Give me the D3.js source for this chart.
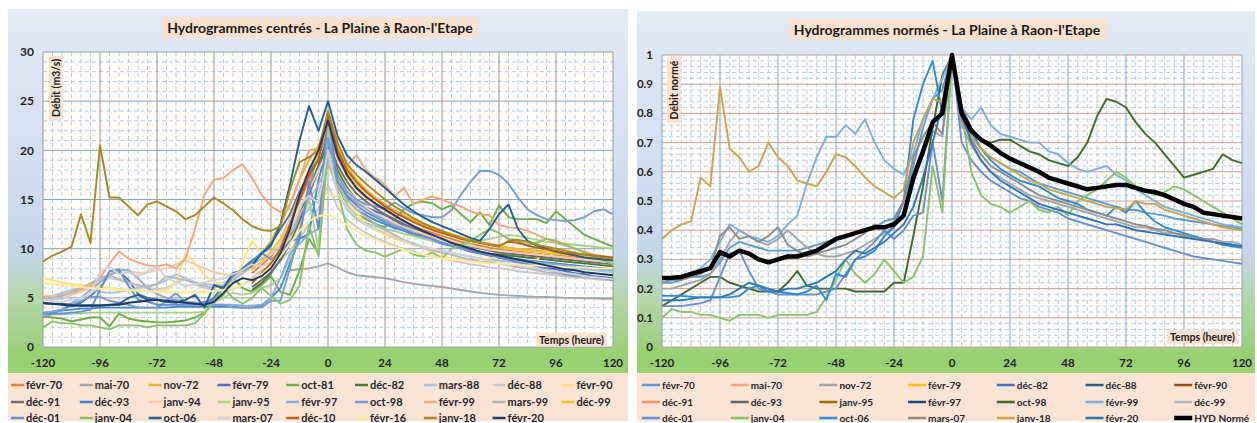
<!DOCTYPE html>
<html><head><meta charset="utf-8">
<script src="https://cdn.jsdelivr.net/npm/d3@7"></script>
<style>
body{margin:0;background:#fff}
svg{display:block}
text{font-family:Lato,"Open Sans","DejaVu Sans",sans-serif}
</style>
</head><body>
<svg id="c" width="1257" height="423"></svg>
<script>
// ---------- shared categories ----------
const hours = [-120,-116,-112,-108,-104,-100,-96,-92,-88,-84,-80,-76,-72,-68,-64,-60,-56,-52,-48,-44,-40,-36,-32,-28,-24,-20,-16,-12,-8,-4,0,4,8,12,16,20,24,28,32,36,40,44,48,52,56,60,64,68,72,76,80,84,88,92,96,100,104,108,112,116,120];
const xTickLabels = [-120,-96,-72,-48,-24,0,24,48,72,96,120];
const leftYTicks = [0,5,10,15,20,25,30];
const rightYTicks = [0,0.1,0.2,0.3,0.4,0.5,0.6,0.7,0.8,0.9,1];
const n = null;

// ---------- left chart: débits (m3/s) ----------
const lFevr70 = [n,n,n,n,n,n,n,n,n,n, n,n,n,n,n,n,n,n,n,n, n,n,7.5,8.3,9.2,10.5,12.5,14.8,17,19.5, 22, 19.3,17.4,16.1,15.2,14.5,13.9,13.3,12.8,12.3,11.9, 11.6,11.3,11,10.7,10.5,10.3,10.1,9.9,9.8,9.7, 9.6,9.5,9.4,9.3,9.2,9.1,9.0,8.9,8.8,8.7];
const lMai70 = [n,n,n,n,n,n,n,n,n,n, n,n,n,n,n,n,n,n,n,n, n,n,n,n,n,n,7.8,7.9,8.0,8.2, 8.5, 8.1,7.6,7.3,7.2,7.1,7.0,6.8,6.6,6.45,6.3, 6.2,6.1,5.95,5.8,5.65,5.5,5.4,5.3,5.25,5.2, 5.15,5.1,5.1,5.05,5.0,5.0,4.95,4.95,4.9,4.9];
const lNov72 = [n,n,n,n,n,n,n,n,n,n, n,n,n,n,n,n,n,n,n,n, n,n,8.5,9.5,10.8,12.5,14.5,17,19,20.5, 23, 20.3,18.3,17,16,15.2,14.5,13.9,13.4,12.9,12.5, 12.1,11.8,11.5,11.2,10.9,10.7,10.5,10.3,10.1,10, 9.9,9.8,9.7,9.6,9.5,9.4,9.3,9.2,9.1,9.0];
const lFevr79 = [3.4,3.6,3.8,4.2,4.5,5.2,6,7.4,7.7,6.8, 5.4,5,4.8,4.6,4.6,4.5,4.5,4.4,5,6.3, 7.2,8,8.8,9.5,10.5,12,13.5,15.8,17.5,19.5, 22, 17,15.2,14.6,14.2,13.8,13.4,12.9,12.3,11.8,11.3, 10.9,10.6,10.3,10,9.7,9.5,9.3,9.1,8.9,8.7, 8.5,8.3,8.1,7.9,7.7,7.5,7.4,7.2,7.1,7.0];
const lOct81 = [3.1,3,2.9,2.6,2.8,3,3,2.1,3.4,2.9, 2.7,2.6,2.5,2.5,2.6,2.7,3,3.5,4.6,5.3, 7.1,6,5.6,6.3,7.2,5.6,5.3,7.8,11,9.5, 21, 16.5,14.5,13.5,13,12.5,12.2,13,14,14.6,14.8, 14.6,14,14.4,13.5,12.7,13.7,12.4,14.4,13.2,13, 13,13,12.6,13.8,13,12.2,11.4,11,10.6,10.2];
const lDec82 = [n,n,n,n,n,n,n,n,n,n, n,n,n,n,n,n,n,n,n,n, n,n,5.8,6.5,7.5,9,11,13.5,16,18.5, 21.5, 18,16.2,15,14.2,13.6,13,12.5,12,11.6,11.2, 10.9,10.6,10.4,10.1,9.9,9.7,9.5,9.4,9.3,9.2, 9.1,9,8.9,8.8,8.7,8.6,8.5,8.4,8.3,8.2];
const lMars88 = [5,5.2,5.5,5.8,6,5.8,5.6,5.5,5.6,5.8, 6,6.2,6.4,6.8,7.4,7,6.6,6.4,6.3,6.5, 7,7.6,8.3,9,9.4,10.2,11.5,13,14,15.5, 19, 15.8,14,13,12.4,11.9,11.5,11.1,10.8,10.5,10.2, 10,9.8,9.6,9.4,9.2,9,8.9,8.8,8.7,8.6, 8.5,8.4,8.3,8.2,8.1,8,7.9,7.8,7.7,7.6];
const lDec88 = [4.8,4.8,4.9,5.3,5.8,6.3,6.9,7,6.8,6.5, 6.2,6,5.9,6,6.5,7,6.4,6,5.8,5.7, 5.9,6.3,7,7.8,8.2,8.8,9.8,11,12.5,14, 16.5, 14.2,13,12.2,11.6,11.1,10.7,10.3,10,9.7,9.4, 9.2,9,8.8,8.6,8.4,8.3,8.1,8,7.9,7.7, 7.6,7.5,7.4,7.3,7.2,7.1,7,6.9,6.8,6.8];
const lFevr90 = [7,6.8,6.6,6.4,6.3,6.2,6.1,6,5.9,5.8, 5.8,5.7,5.6,5.8,6.5,9.5,8.5,7.3,6.6,6.4, 6.5,8.5,10.8,9.5,8.8,9.5,11,12.5,15,15.5, 15.5, 15.3,14.5,13.6,12.6,11.9,11.4,11,10.7,10.4,10.1, 9.6,9.2,9,8.8,8.8,8.9,9,9.2,9,8.8, 8.7,8.9,9.8,9,8.9,8.8,8.8,8.8,8.8,8.7];
const lDec91 = [n,n,n,n,n,n,n,n,n,n, n,n,n,n,n,n,n,n,n,n, n,n,6.1,6.8,7.6,8.8,10.5,12.8,15.5,18, 21, 18.5,16.8,15.6,14.8,14.1,13.5,13,12.5,12.1,11.7, 11.3,11,10.7,10.4,10.2,10,9.8,9.6,9.5,9.4, 9.3,9.2,9.1,9,8.9,8.8,8.7,8.6,8.5,8.4];
const lDec93 = [3.5,3.6,3.7,3.8,3.9,3.9,4,4,4,4, 4,4,4,4,4.1,4.1,4.1,4.1,4.1,4.1, 4.1,4,4,4.2,5,6,8.5,11,11.5,17, 20.5, 17,15,14,13.4,12.9,12.5,12.1,11.8,11.4,11.1, 10.8,10.5,10.3,10,9.8,9.6,9.4,9.2,9,8.9, 8.8,8.7,8.6,8.5,8.4,8.3,8.2,8.1,8,7.9];
const lJanv94 = [5.3,5.2,5.2,5.3,5.6,6,6.6,7.4,8,7.8, 7.5,7.6,7.8,8,8.4,8.8,8.4,8,7.6,7.4, 7.3,7.5,8,8.6,9.4,10.5,12,14,16,18, 20, 17.5,16,15,14.2,13.6,13.1,12.6,12.2,11.8,11.5, 11.2,10.9,10.7,10.5,10.3,10.1,9.9,9.8,9.7,9.6, 9.5,9.4,9.3,9.2,9.1,9,8.9,8.8,8.7,8.6];
const lJanv95 = [3.2,3.3,3.3,3.4,3.4,3.5,3.5,3.5,3.5,3.5, 3.5,3.5,3.5,3.5,3.5,3.5,3.5,3.6,4.5,5, 5.5,5.3,5.5,6,6.3,7,9,12,15,10, 22, 17,14.5,13,12.6,12.3,12,11.8,11.5,11.3,11, 10.8,10.6,10.5,10.4,10.5,10.8,11,11.2,11.4,11.3, 11.1,10.9,10.7,10.6,10.5,10.4,10.3,10.2,10.1,10];
const lFevr97 = [3.5,3.6,3.8,4.5,5,5.8,6.6,7.3,7.8,7.8, 7,6,5.4,5,4.8,4.6,4.5,4.4,4.3,4.3, 4.3,4.2,4.2,4.3,5,7,9.5,10.5,11.5,12, 21.2, 17,15.5,14.7,14,13.4,12.9,12.4,12,11.6,11.2, 10.9,10.6,10.3,10,9.8,9.6,9.4,9.2,9,8.8, 8.7,8.6,8.5,8.4,8.3,8.2,8.1,8,7.9,7.8];
const lOct98 = [3,3.4,3.8,4.3,4.7,5.1,5.1,4.7,4.5,4.3, 4,4,4,4.7,5.5,4.5,4.3,4.3,4.3,4.3, 4,4,4,4,4.7,4.7,8,11.7,16,20, 21.3, 17.5,15.8,15,14.5,14.3,14.1,14.7,14.1,13.6,13.4, 13.2,13.2,13.9,15.5,16.8,17.9,17.9,17.5,16.6,15.2, 14,13.4,13,12.9,12.8,12.9,13.2,13.8,14,13.5];
const lFevr99 = [5.1,5,5.3,5.5,5.8,6.2,7,8.5,9.7,9, 8.6,8.3,8.2,8.4,8,9,12,15.5,17,17.2, 18,18.6,17.2,15.5,14.3,13.7,14.5,17,20,20.2, 23.7, 19.5,18.5,19.5,18,17.2,16.5,15.3,16.2,14.5,15, 15.3,15,14.6,14.3,13.8,13.5,13.4,12.4,12.2,12.1, 11.8,11.4,11,10.6,10.3,10,9.7,9.4,9.2,9.0];
const lMars99 = [5,5,5.2,5.6,6,6.5,7,7.3,6.9,6.6, 6.3,6.1,6.4,7.2,7,6.8,6.5,6.2,6,6.3, 6.8,7.5,8.2,9.5,10,9.8,11.5,13.5,15,16.5, 18.5, 16.5,15,14,13.2,12.5,11.9,11.4,10.9,10.5,10.1, 9.8,9.6,9.4,9.1,8.9,8.7,8.6,8.5,8.3,8.1, 8,7.8,7.6,7.5,7.3,7.2,7.1,7,6.9,6.8];
const lDec99 = [n,n,n,n,n,n,n,n,n,n, n,n,n,n,n,n,n,n,n,n, n,n,7.9,8.7,9.7,11,13,15.5,18,19.5, 22.5, 19.8,17.8,16.6,15.7,15,14.3,13.7,13.2,12.7,12.3, 11.9,11.6,11.3,11,10.8,10.6,10.4,10.2,10,9.9, 9.8,9.7,9.6,9.5,9.4,9.3,9.2,9.1,9,8.9];
const lDec01 = [3.4,3.4,3.4,3.5,3.6,3.8,5.8,7.7,7.9,6.2, 4.8,4.6,4.3,4.3,4.3,4.3,4.3,4.6,4.8,6, 7.2,7.9,8.6,9.6,8.9,9.6,10.8,11,16.8,12, 24, 16.8,15.4,14.4,13.7,13.2,12.7,12.2,12,11.5,11.3, 11,10.6,10.3,10.1,9.8,9.6,9.4,9.1,8.9,8.6, 8.4,8.2,7.9,7.7,7.4,7.3,7.2,7.1,7,6.8];
const lJanv04 = [2,2.6,2.4,2.4,2.2,2.2,2,1.8,2.2,2.2, 2.2,2,2.2,2.2,2.2,2.2,2.4,3.4,4.6,6, 5,4.4,5,6,5.2,4.4,4.8,6.2,12.4,9.2, 20, 16,12,10.4,9.8,9.6,9.2,9.6,10,9.4,9.2, 9.6,9,10,10.4,10.8,11.4,12,11.6,11,10.8, 10.4,10.6,11,10.8,10.4,10,9.6,9.2,8.8,8.4];
const lOct06 = [4.4,4.4,4.4,4.3,4.25,4.25,4.25,4.25,4.4,5, 5.3,4.8,4.8,4.6,4.5,4.8,5.3,4,6.3,6, 7.5,7.8,8.3,9.5,10.3,12.5,16.5,21,24.5,22, 25, 21.5,19.5,18.5,17.8,17,16.2,15.3,14.5,13.8,13.2, 12.7,12.3,11.9,11.5,11.1,10.8,12,13.5,14.5,12, 10.8,10.3,10,9.7,9.5,9.3,9.1,9,8.9,8.8];
const lMars07 = [4.4,4.6,4.6,4.8,5,5.4,7.6,8.2,7.4,7.6, 7.2,7.6,8.2,7,6.6,6.2,6.4,6.6,6.8,7, 7.4,7.8,8.4,8.2,8.6,10,13,14.4,15.4,14.6, 20, 15.6,14.2,13.2,12.4,12,11.6,11.2,10.8,10.4,10.2, 10,9.8,9.6,9.4,9.2,9,8.8,8.6,8.4,8.3, 8.1,8,7.8,7.7,7.5,7.4,7.2,7.1,7,6.9];
const lDec10 = [n,n,n,n,n,n,n,n,n,n, n,n,n,n,n,n,n,n,n,n, n,n,6.5,7.5,8.5,10,12.5,15,17.5,19, 23.8, 20,18,16.8,15.8,15,14.3,13.7,13.2,12.7,12.3, 11.9,11.6,11.3,11,10.8,10.6,10.4,10.3,10.7,10.6, 10.3,10.1,9.9,9.8,9.6,9.5,9.4,9.3,9.2,9.1];
const lFevr16 = [6.5,6.4,6.3,6.2,6.1,6,5.9,5.9,5.8,5.8, 5.7,5.7,5.6,5.6,5.6,5.6,5.6,5.6,5.7,5.8, 6,6.3,6.8,7.4,8.2,9.2,10.5,11.8,12.8,13.3, 13.5, 13,12.4,11.8,11.3,10.9,10.5,10.2,9.9,9.6,9.4, 9.2,9,8.9,8.8,8.7,8.6,8.5,8.5,8.4,8.4, 8.3,8.3,8.2,8.2,8.1,8.1,8.1,8,8,8];
const lJanv18 = [8.7,9.3,9.7,10.2,13.5,10.6,20.5,15.2,15.2,14.3, 13.4,14.5,14.8,14.3,13.8,13,13.4,14.3,15.2,14.6, 13.9,13,12.3,11.9,11.8,12.3,16,18.8,19.3,20, 24, 20.8,18.6,17.5,16.6,15.8,15,14.3,13.7,13.1,12.6, 12.2,11.8,11.4,11.1,10.8,10.6,10.4,10.2,10.8,10.9, 10.7,10.4,10.2,10,9.8,9.6,9.4,9.3,9.1,9.0];
const lFevr20 = [4.5,4.4,4.3,4.2,4.2,4.2,4.2,4.3,4.3,4.5, 4.6,4.7,4.8,4.7,4.6,4.5,4.4,4.3,4.6,5.5, 6.5,7,6.8,7.2,8,9.5,12,15.5,18,20, 23, 19.5,17.5,16.2,15.3,14.6,14,13.4,12.8,12.3,11.8, 11.4,11,10.6,10.3,10,9.7,9.5,9.3,9.1,8.9, 8.7,8.5,8.3,8.1,7.9,7.8,7.6,7.5,7.4,7.3];

const leftNames = ["févr-70","mai-70","nov-72","févr-79","oct-81","déc-82","mars-88","déc-88","févr-90",
  "déc-91","déc-93","janv-94","janv-95","févr-97","oct-98","févr-99","mars-99","déc-99",
  "déc-01","janv-04","oct-06","mars-07","déc-10","févr-16","janv-18","févr-20"];
const leftValues = [lFevr70,lMai70,lNov72,lFevr79,lOct81,lDec82,lMars88,lDec88,lFevr90,
  lDec91,lDec93,lJanv94,lJanv95,lFevr97,lOct98,lFevr99,lMars99,lDec99,
  lDec01,lJanv04,lOct06,lMars07,lDec10,lFevr16,lJanv18,lFevr20];
const leftColors = ["#ED7D31","#A5A5A5","#E3B428","#4472C4","#70AD47","#4E7A35","#9DC3E6","#C9C9C9","#FFE27A",
  "#6F6F6F","#3C8DD0","#F8CBAD","#A9D18E","#8FAADC","#7A9CCB","#F4A77A","#B7B7B7","#F2C12E",
  "#698ED0","#8CC168","#255E91","#D3D3D3","#C55A11","#FFEB9C","#A48A1F","#203864"];

// ---------- right chart: débits normés ----------
const rFevr70 = [.22,.22,.23,.24,.24,.25,.29,.34,.36,.35, .34,.33,.33,.33,.33,.34,.35,.36,.37,.38, .39,.4,.41,.43,.44,.5,.62,.75,.85,.88, 1, .79,.72,.68,.65,.63,.61,.6,.58,.56,.55, .54,.53,.52,.51,.5,.49,.48,.47,.47,.46, .455,.45,.44,.435,.43,.425,.42,.415,.41,.405];
const rMai70 = [];
const rNov72 = [.2,.2,.21,.22,.23,.25,.3,.36,.4,.38, .36,.35,.37,.4,.37,.34,.32,.31,.31,.32, .33,.35,.37,.39,.41,.45,.56,.66,.74,.72, 1, .76,.69,.64,.6,.58,.56,.54,.52,.51,.5, .49,.48,.47,.46,.45,.44,.43,.42,.41,.41, .4,.39,.39,.38,.38,.37,.37,.36,.36,.35];
const rFevr79 = [];
const rDec82 = [];
const rDec88 = [];
const rFevr90 = [];
const rDec91 = [];
const rDec93 = [];
const rJanv95 = [];
const rFevr97 = [];
const rOct98 = [.14,.16,.18,.2,.22,.24,.24,.22,.21,.2, .19,.19,.19,.22,.26,.21,.2,.2,.2,.2, .19,.19,.19,.19,.22,.22,.38,.55,.75,.93, 1, .82,.75,.71,.70,.71,.71,.69,.67,.66,.64, .63,.62,.65,.70,.79,.85,.84,.82,.77,.73, .70,.66,.62,.58,.59,.6,.61,.66,.64,.63];
const rFevr99 = [.22,.23,.24,.25,.27,.3,.36,.42,.4,.38, .37,.36,.38,.42,.45,.56,.65,.72,.72,.76, .73,.78,.7,.64,.61,.59,.66,.78,.85,.92, 1, .82,.78,.82,.76,.73,.72,.71,.70,.70,.67, .66,.63,.61,.60,.61,.62,.59,.57,.54,.52, .50,.48,.47,.46,.45,.44,.43,.42,.415,.41];
const rDec99 = [];
const rDec01 = [.14,.14,.14,.145,.15,.16,.24,.32,.33,.26, .2,.19,.18,.18,.18,.18,.18,.19,.2,.25, .3,.33,.36,.4,.37,.4,.45,.46,.7,.5, 1, .7,.64,.6,.57,.55,.53,.51,.5,.48,.47, .46,.44,.43,.42,.41,.4,.39,.38,.37,.36, .35,.34,.33,.32,.31,.305,.3,.295,.29,.285];
const rJanv04 = [.1,.13,.12,.12,.11,.11,.1,.09,.11,.11, .11,.1,.11,.11,.11,.11,.12,.17,.23,.3, .25,.22,.25,.3,.26,.22,.24,.31,.62,.46, 1, .8,.6,.52,.49,.48,.46,.48,.5,.47,.46, .48,.45,.5,.52,.54,.57,.6,.58,.55,.54, .52,.53,.55,.54,.52,.5,.48,.46,.44,.42];
const rOct06 = [.175,.175,.175,.172,.17,.17,.17,.17,.175,.2, .21,.19,.19,.185,.18,.19,.21,.16,.25,.24, .3,.31,.33,.38,.41,.5,.78,.9,.98,.8, 1, .8,.74,.68,.64,.61,.59,.57,.56,.55,.53, .51,.5,.49,.47,.46,.45,.48,.46,.5,.46, .43,.41,.4,.39,.38,.37,.36,.35,.345,.34];
const rMars07 = [.22,.23,.23,.24,.25,.27,.38,.41,.37,.38, .36,.38,.41,.35,.33,.31,.32,.33,.34,.35, .37,.39,.42,.41,.43,.5,.65,.72,.77,.73, 1, .78,.71,.66,.62,.6,.58,.56,.54,.52,.51, .5,.49,.48,.47,.46,.45,.44,.43,.42,.415, .405,.4,.39,.385,.375,.37,.36,.355,.35,.345];
const rJanv18 = [.37,.40,.42,.43,.58,.55,.89,.68,.65,.60, .62,.70,.65,.62,.57,.56,.55,.60,.66,.65, .62,.58,.55,.53,.51,.54,.70,.78,.85,.84, 1, .80,.72,.68,.65,.63,.61,.59,.57,.56,.54, .53,.52,.51,.50,.49,.48,.475,.47,.50,.49, .49,.47,.46,.45,.44,.43,.42,.41,.405,.40];
const rFevr20 = [.16,.16,.16,.165,.17,.17,.17,.18,.2,.22, .21,.2,.19,.2,.2,.21,.22,.24,.26,.3, .33,.32,.34,.36,.39,.42,.48,.58,.7,.83, 1, .8,.7,.64,.6,.57,.55,.53,.51,.49,.48, .47,.46,.45,.44,.43,.42,.42,.41,.40,.395, .39,.385,.38,.375,.37,.365,.36,.355,.35,.345];
const rHydNorme = [.236,.237,.24,.25,.26,.27,.325,.31,.33,.32, .30,.29,.30,.31,.31,.32,.33,.35,.37,.38, .39,.40,.41,.41,.42,.45,.58,.67,.77,.80, 1, .80,.74,.71,.69,.665,.645,.63,.615,.60,.58, .57,.56,.55,.54,.545,.55,.555,.555,.545,.535, .53,.52,.505,.49,.48,.46,.455,.45,.445,.44];

const rightNames = ["févr-70","mai-70","nov-72","févr-79","déc-82","déc-88","févr-90",
  "déc-91","déc-93","janv-95","févr-97","oct-98","févr-99","déc-99",
  "déc-01","janv-04","oct-06","mars-07","janv-18","févr-20","HYD Normé"];
const rightValues = [rFevr70,rMai70,rNov72,rFevr79,rDec82,rDec88,rFevr90,
  rDec91,rDec93,rJanv95,rFevr97,rOct98,rFevr99,rDec99,
  rDec01,rJanv04,rOct06,rMars07,rJanv18,rFevr20,rHydNorme];
const rightColors = ["#5B9BD5","#F4A77A","#A5A5A5","#FFC000","#4472C4","#255E91","#9E480E",
  "#F1975A","#636363","#997300","#264478","#43682B","#7CAFDD","#B7B7B7",
  "#698ED0","#8CC168","#2E8BD5","#8C8C8C","#C9A54A","#2E75B6","#000000"];

// ---------- drawing ----------
const svg = d3.select("#c");
const defs = svg.append("defs");
const g1 = defs.append("linearGradient").attr("id","bg").attr("x1",0).attr("y1",0).attr("x2",0).attr("y2",1);
[[0,"#e3ebf5"],[0.5,"#cfddef"],[0.72,"#c3d7e9"],[0.86,"#b3d6a6"],[1,"#9ccf7c"]].forEach(s=>g1.append("stop").attr("offset",s[0]).attr("stop-color",s[1]));

function panel(cfg){
  const g = svg.append("g");
  g.append("rect").attr("x",cfg.px).attr("y",cfg.py).attr("width",cfg.pw).attr("height",349-cfg.py).attr("fill","url(#bg)");
  g.append("rect").attr("x",cfg.px).attr("y",349).attr("width",cfg.pw).attr("height",24).attr("fill","#98d072");
  g.append("rect").attr("x",cfg.px).attr("y",373).attr("width",cfg.pw).attr("height",421-373).attr("fill","#fbe4d6");

  const x = d3.scaleLinear().domain([-120,120]).range([cfg.x0,cfg.x1]);
  const y = d3.scaleLinear().domain([0,cfg.ymax]).range([347,cfg.ytop]);

  g.append("rect").attr("x",cfg.x0).attr("y",cfg.ytop).attr("width",cfg.x1-cfg.x0).attr("height",347-cfg.ytop).attr("fill","#fffbf8");

  const mv = d3.range(-120,121,4).filter(h=>h%24!==0);
  g.append("g").selectAll("line").data(mv).join("line")
    .attr("x1",d=>x(d)).attr("x2",d=>x(d)).attr("y1",cfg.ytop).attr("y2",347)
    .attr("stroke","#9cc8ea").attr("stroke-width",0.8).attr("stroke-dasharray","4,3");
  const mh = d3.range(0,cfg.ymax+1e-9,cfg.minor).filter(v=>Math.abs(v/cfg.major-Math.round(v/cfg.major))>1e-6);
  g.append("g").selectAll("line").data(mh).join("line")
    .attr("x1",cfg.x0).attr("x2",cfg.x1).attr("y1",d=>y(d)).attr("y2",d=>y(d))
    .attr("stroke","#9cc8ea").attr("stroke-width",0.8).attr("stroke-dasharray","4,3");
  g.append("g").selectAll("line").data(cfg.yticks).join("line")
    .attr("x1",cfg.x0).attr("x2",cfg.x1).attr("y1",d=>y(d)).attr("y2",d=>y(d))
    .attr("stroke",cfg.hMajor).attr("stroke-width",1);
  g.append("g").selectAll("line").data(xTickLabels).join("line")
    .attr("x1",d=>x(d)).attr("x2",d=>x(d)).attr("y1",cfg.ytop).attr("y2",347)
    .attr("stroke",cfg.vMajor).attr("stroke-width",1);

  const line = d3.line().defined(d=>d[1]!=null).x(d=>x(d[0])).y(d=>y(d[1]));
  cfg.values.forEach((vals,i)=>{
    if(!vals.length) return;
    const pts = vals.map((v,j)=>[hours[j],v]);
    g.append("path").attr("d",line(pts)).attr("fill","none")
      .attr("stroke",cfg.colors[i]).attr("stroke-width",cfg.names[i]==="HYD Normé"?4.5:1.9)
      .attr("stroke-linejoin","round");
  });

  g.append("g").selectAll("text").data(cfg.yticks).join("text")
    .attr("x",cfg.x0-9).attr("y",d=>y(d)).attr("dy","0.35em").attr("text-anchor","end")
    .attr("font-size",cfg.yfs).attr("font-weight","bold").attr("fill","#1f1f1f")
    .text(d=>cfg.yfmt(d));
  g.append("g").selectAll("text").data(xTickLabels).join("text")
    .attr("x",d=>x(d)).attr("y",367).attr("text-anchor","middle")
    .attr("font-size",11.5).attr("font-weight","bold").attr("fill","#1f1f1f")
    .text(d=>d);

  const tt = g.append("text").attr("x",cfg.tx).attr("y",cfg.ty).attr("text-anchor","middle")
    .attr("font-size",14).attr("font-weight","bold").attr("fill","#1a1a1a").text(cfg.title);
  const tb = tt.node().getBBox();
  g.insert("rect",()=>tt.node()).attr("x",tb.x-5).attr("y",tb.y-2).attr("width",tb.width+10).attr("height",tb.height+4).attr("fill","#fbe1cf");

  const yt = g.append("text").attr("transform",`translate(${cfg.ytx},${cfg.yty}) rotate(-90)`)
    .attr("text-anchor","middle").attr("dy","0.35em").attr("font-size",10.5).attr("font-weight","bold").attr("fill","#1a1a1a").text(cfg.ytitle);
  const yb = yt.node().getBBox();
  g.insert("rect",()=>yt.node()).attr("x",cfg.ytx-yb.height/2-1).attr("y",cfg.yty-yb.width/2-3).attr("width",yb.height+2).attr("height",yb.width+6).attr("fill","#fbe1cf");

  const xt = g.append("text").attr("x",cfg.xtx).attr("y",cfg.xty).attr("dy","0.35em").attr("text-anchor","end")
    .attr("font-size",10.5).attr("font-weight","bold").attr("fill","#1a1a1a").text("Temps (heure)");
  const xb = xt.node().getBBox();
  g.insert("rect",()=>xt.node()).attr("x",xb.x-3).attr("y",xb.y-1).attr("width",xb.width+6).attr("height",xb.height+2).attr("fill","#fbe1cf");

  const rows=[385,402,418];
  cfg.names.forEach((nm,i)=>{
    const r = Math.floor(i/cfg.perRow), c = i%cfg.perRow;
    const lx = cfg.lx0 + c*cfg.lstep, ly = rows[r];
    g.append("line").attr("x1",lx).attr("x2",lx+cfg.llen).attr("y1",ly).attr("y2",ly)
      .attr("stroke",cfg.colors[i]).attr("stroke-width",nm==="HYD Normé"?4.5:2.5);
    g.append("text").attr("x",lx+cfg.llen+2).attr("y",ly).attr("dy","0.35em")
      .attr("font-size",cfg.lfs).attr("font-weight","bold").attr("fill","#262626").text(nm);
  });
}

panel({px:8,py:9,pw:620,x0:43,x1:613,ytop:52,ymax:30,major:5,minor:1,yticks:leftYTicks,
  hMajor:"#8aa6b8",vMajor:"#9a9a9a",yfs:12,yfmt:d=>d,
  values:leftValues,colors:leftColors,names:leftNames,
  title:"Hydrogrammes centrés - La Plaine à Raon-l'Etape",tx:320,ty:33,
  ytitle:"Débit (m3/s)",ytx:56,yty:88,xtx:604,xty:340,
  perRow:9,lx0:11,lstep:68.8,llen:13,lfs:11});

panel({px:637,py:11,pw:618,x0:662,x1:1242,ytop:55,ymax:1,major:0.1,minor:0.02,yticks:rightYTicks,
  hMajor:"#c9a29a",vMajor:"#7ea9c8",yfs:11.5,yfmt:d=>d===0?"0":(d===1?"1":d3.format(".1f")(d)),
  values:rightValues,colors:rightColors,names:rightNames,
  title:"Hydrogrammes normés - La Plaine à Raon-l'Etape",tx:947,ty:35,
  ytitle:"Débit normé",ytx:674,yty:90,xtx:1235,xty:337,
  perRow:7,lx0:642,lstep:88.7,llen:18,lfs:10});
</script>
</body></html>
